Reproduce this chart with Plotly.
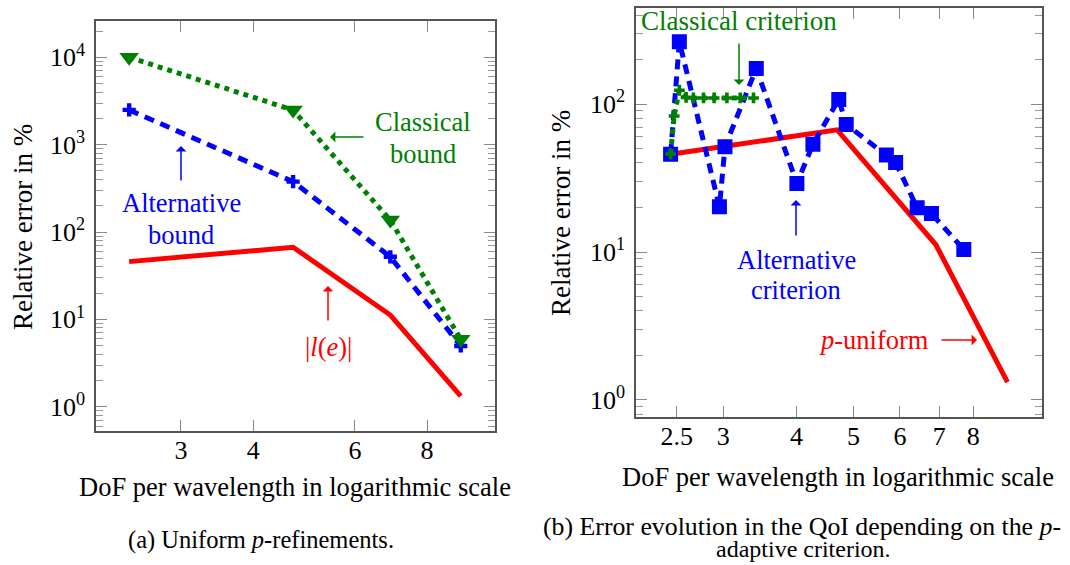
import plotly.graph_objects as go

# ---------------- data ----------------
# (a) uniform p-refinements
dof_a = [2.44, 4.69, 6.91, 9.15]
err_le_a = [45.8, 67.0, 11.2, 1.32]          # |l(e)|
bound_classical = [10000, 2490, 137, 5.9]
bound_alternative = [2500, 377, 52, 4.95]

# (b) p-adaptive criteria
dof_uniform = [2.44, 4.69, 6.91, 9.15]
err_uniform = [45.8, 67.0, 11.2, 1.32]
dof_alt = [2.44, 2.525, 2.955, 3.02, 3.415, 4.005, 4.265, 4.72, 4.86, 5.69, 5.90, 6.42, 6.79, 7.71]
err_alt = [45.9, 264, 20.2, 51.4, 174, 29.1, 53.6, 107.6, 72.9, 45.2, 40.3, 19.9, 18.2, 10.4]
dof_cls = [2.44, 2.474, 2.525, 2.593, 2.668, 2.776, 2.894, 3.043, 3.206, 3.378]
err_cls = [46, 83, 124, 111, 110, 110, 110, 110, 110, 110]

xticks_a = [3, 4, 6, 8]
xticks_b = [2.5, 3, 4, 5, 6, 7, 8]
yticks_major = [1, 10, 100, 1000, 10000]
yticks_text = ["10<sup>0</sup>", "10<sup>1</sup>", "10<sup>2</sup>", "10<sup>3</sup>", "10<sup>4</sup>"]

RED = "#ff0000"
BLUE = "#0000ff"
GREEN = "#008000"
FONT = "Liberation Serif"
W, H = 1070, 565

def px(x):
    return x / W

def py(y):
    return 1 - y / H

fig = go.Figure()

# (a)
fig.add_trace(go.Scatter(x=dof_a, y=err_le_a, mode="lines",
                         line=dict(color=RED, width=5), xaxis="x", yaxis="y"))
fig.add_trace(go.Scatter(x=dof_a, y=bound_alternative, mode="lines+markers",
                         line=dict(color=BLUE, width=5, dash="10px,7px"),
                         marker=dict(symbol="cross", size=11, color=BLUE),
                         xaxis="x", yaxis="y"))
fig.add_trace(go.Scatter(x=dof_a, y=bound_classical, mode="lines+markers",
                         line=dict(color=GREEN, width=5, dash="5px,5px"),
                         marker=dict(symbol="triangle-down", size=17, color=GREEN),
                         xaxis="x", yaxis="y"))

# (b)
fig.add_trace(go.Scatter(x=dof_uniform, y=err_uniform, mode="lines",
                         line=dict(color=RED, width=5), xaxis="x2", yaxis="y2"))
fig.add_trace(go.Scatter(x=dof_alt, y=err_alt, mode="lines+markers",
                         line=dict(color=BLUE, width=5, dash="10px,7px"),
                         marker=dict(symbol="square", size=15, color=BLUE),
                         xaxis="x2", yaxis="y2"))
fig.add_trace(go.Scatter(x=dof_cls, y=err_cls, mode="lines+markers",
                         line=dict(color=GREEN, width=5, dash="5px,5px"),
                         marker=dict(symbol="cross", size=9, color=GREEN),
                         xaxis="x2", yaxis="y2"))

minor_vals = [m * 10 ** e for e in range(-1, 5) for m in range(2, 10)]

def yaxis_cfg(domain, rng, anchor):
    return dict(type="log", domain=domain, range=rng, anchor=anchor,
                tickmode="array", tickvals=yticks_major, ticktext=yticks_text,
                ticks="inside", ticklen=11, tickwidth=1.3, tickcolor="#888",
                minor=dict(tickmode="array", tickvals=minor_vals, ticks="inside",
                           ticklen=7, tickwidth=1.2, tickcolor="#999", showgrid=False),
                showline=True, linecolor="#555", linewidth=1.5, mirror="ticks",
                showgrid=False, zeroline=False,
                ticklabelstandoff=4,
                tickfont=dict(family=FONT, size=26, color="black"))

def xaxis_cfg(domain, rng, anchor, tv):
    return dict(type="log", domain=domain, range=rng, anchor=anchor,
                tickmode="array", tickvals=tv, ticktext=[str(v) for v in tv],
                ticks="inside", ticklen=11, tickwidth=1.3, tickcolor="#888",
                showline=True, linecolor="#555", linewidth=1.5, mirror="ticks",
                showgrid=False, zeroline=False,
                ticklabelstandoff=-5,
                tickfont=dict(family=FONT, size=26, color="black"))

fig.update_layout(
    width=W, height=H, margin=dict(l=0, r=0, t=0, b=0),
    paper_bgcolor="white", plot_bgcolor="white", showlegend=False,
    font=dict(family=FONT, size=26, color="black"),
    xaxis=xaxis_cfg([px(96), px(495)], [0.3300, 1.0207], "y", xticks_a),
    yaxis=yaxis_cfg([py(430.7), py(21)], [-0.275, 4.416], "x"),
    xaxis2=xaxis_cfg([px(636), px(1041.7)], [0.3284, 1.0198], "y2", xticks_b),
    yaxis2=yaxis_cfg([py(416.7), py(8.3)], [-0.113, 2.6475], "x2"),
)

ann = []

def text(x, y, s, color="black", size=26.5, angle=0):
    ann.append(dict(x=px(x), y=py(y), xref="paper", yref="paper", text=s,
                    showarrow=False, textangle=angle,
                    font=dict(family=FONT, size=size, color=color),
                    xanchor="center", yanchor="middle"))

def arrow(x0, y0, x1, y1, color):
    ann.append(dict(x=px(x1), y=py(y1), xref="paper", yref="paper",
                    ax=x0 - x1, ay=y0 - y1, axref="pixel", ayref="pixel",
                    text="", showarrow=True, arrowhead=1, arrowsize=1.2,
                    arrowwidth=1.5, arrowcolor=color, standoff=0, startstandoff=0))

# axis titles
text(295, 487, "DoF per wavelength in logarithmic scale")
text(838, 477, "DoF per wavelength in logarithmic scale")
text(23, 227, "Relative error in %", angle=-90, size=27)
text(561, 213, "Relative error in %", angle=-90, size=27)

# (a) annotations
text(423, 122, "Classical", GREEN)
text(423, 154, "bound", GREEN)
arrow(365, 137, 330, 137, GREEN)
text(181, 203, "Alternative", BLUE)
text(181, 235, "bound", BLUE)
arrow(181, 182, 181, 146, BLUE)
text(328, 347, "|<i>l</i>(<i>e</i>)|", RED)
arrow(328, 322, 328, 286, RED)

# (b) annotations
text(739, 21, "Classical criterion", GREEN, size=27)
arrow(739, 42, 739, 85, GREEN)
text(796, 260, "Alternative", BLUE)
text(796, 290, "criterion", BLUE)
arrow(796, 237, 796, 200, BLUE)
text(874, 340, "<i>p</i>-uniform", RED)
arrow(940, 340, 977, 340, RED)

# captions
text(261, 540, "(a) Uniform <i>p</i>-refinements.", size=24.5)
text(802, 526, "(b) Error evolution in the QoI depending on the <i>p</i>-", size=25.8)
text(803, 549, "adaptive criterion.", size=24)

fig.update_layout(annotations=ann)
fig.write_html("out.html", config={"displayModeBar": False},
               post_script="document.body.style.margin='0px';")
